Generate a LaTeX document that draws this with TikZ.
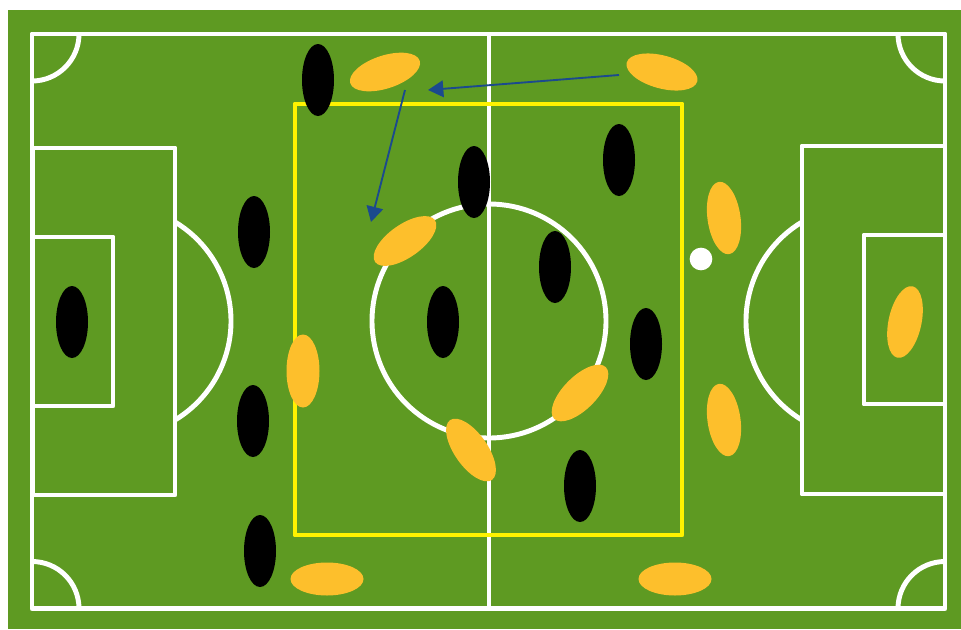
\documentclass[tikz,border=0pt]{standalone}
\usetikzlibrary{shapes.geometric,arrows.meta}
\definecolor{pitch}{HTML}{5E9A22}
\definecolor{kit}{HTML}{FDBF2C}
\definecolor{runblue}{HTML}{1B4A8E}
\tikzset{
  lineW/.style={draw=white,line width=3.7pt,line join=round},
  zoneY/.style={draw=yellow,line width=3.7pt,line join=round},
  player/.style={ellipse,inner sep=0pt,outer sep=0pt,minimum width=32pt*0.75,minimum height=72pt*0.75},
  blackP/.style={player,fill=black},
  kitP/.style={player,fill=kit,minimum width=33pt*0.75,minimum height=73pt*0.75},
  run/.style={draw=runblue,line width=1.4pt,-{Triangle[length=11.5pt,width=12.5pt]}}
}
\begin{document}
\begin{tikzpicture}[x=0.75pt,y=-0.75pt]
\useasboundingbox (0,0) rectangle (961,629);
\fill[pitch] (8,10) rectangle (961,629);
% pitch
\draw[lineW] (32,34) rectangle (945,608.5);
\draw[lineW] (489,34) -- (489,608.5);
\draw[lineW] (489,321) circle[radius=117];
\draw[lineW] (33,148) rectangle (175,495);
\draw[lineW] (33,237) rectangle (113,406);
\draw[lineW] (802,146) rectangle (945,494);
\draw[lineW] (864,235) rectangle (945,404);
\draw[lineW] (175,222) arc[start angle=-59,end angle=59,radius=115.5];
\draw[lineW] (802,222) arc[start angle=239,end angle=121,radius=115.5];
\draw[lineW] (79,34) arc[start angle=0,end angle=90,radius=47];
\draw[lineW] (898,34) arc[start angle=180,end angle=90,radius=47];
\draw[lineW] (79,608.5) arc[start angle=0,end angle=-90,radius=47];
\draw[lineW] (898,608.5) arc[start angle=180,end angle=270,radius=47];
% zone
\draw[zoneY] (295,104) rectangle (682,535);
% black team
\node[blackP] (b1) at (318,80) {};
\node[blackP] (b2) at (474,182) {};
\node[blackP] (b3) at (619,160) {};
\node[blackP] (b4) at (254,232) {};
\node[blackP] (b5) at (555,267) {};
\node[blackP] (b6) at (646,344) {};
\node[blackP] (b7) at (443,322) {};
\node[blackP] (b8) at (72,322) {};
\node[blackP] (b9) at (253,421) {};
\node[blackP] (b10) at (580,486) {};
\node[blackP] (b11) at (260,551) {};
% yellow team
\node[kitP,rotate=-72] (y1) at (385,72) {};
\node[kitP,rotate=-105] (y2) at (662,72) {};
\node[kitP,rotate=-55] (y3) at (405,241) {};
\node[kitP,rotate=8] (y4) at (724,218) {};
\node[kitP,rotate=-12] (y5) at (905,322) {};
\node[kitP] (y6) at (303,371) {};
\node[kitP,rotate=8] (y7) at (724,420) {};
\node[kitP,rotate=-45] (y8) at (580,393) {};
\node[kitP,rotate=35] (y9) at (471,450) {};
\node[kitP,rotate=90] (y10) at (327,579) {};
\node[kitP,rotate=90] (y11) at (675,579) {};
% ball
\node[circle,fill=white,inner sep=0pt,minimum size=17pt] (ball) at (701,259) {};
% runs
\coordinate (r1s) at (619,75);
\coordinate (r1e) at (428,90);
\coordinate (r2s) at (405,90);
\coordinate (r2e) at (371,222);
\draw[run] (r1s) -- (r1e);
\draw[run] (r2s) -- (r2e);
\end{tikzpicture}
\end{document}
